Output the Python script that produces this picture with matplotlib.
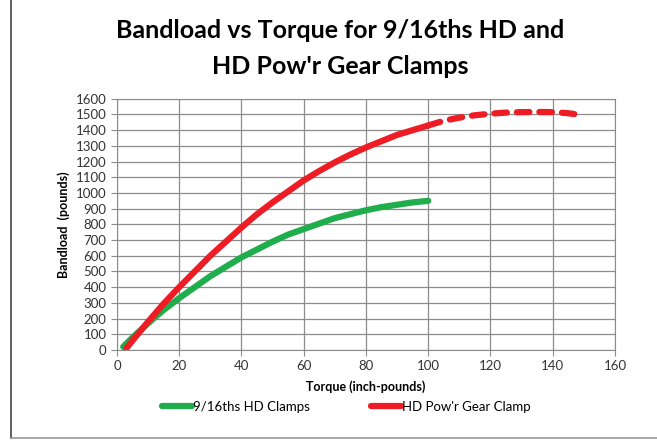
import matplotlib.pyplot as plt

# values
green_x = [2, 5, 10, 15, 20, 25, 30, 35, 40, 45, 50, 55, 60, 65, 70, 75, 80, 85, 90, 95, 100]
green_y = [20, 80, 170, 255, 330, 400, 470, 530, 590, 640, 690, 735, 770, 805, 840, 865, 890, 910, 925, 940, 950]
red_x = [3, 5, 10, 15, 20, 25, 30, 35, 40, 45, 50, 55, 60, 65, 70, 75, 80, 85, 90, 95, 100]
red_y = [10, 60, 180, 295, 400, 500, 600, 690, 780, 865, 940, 1010, 1080, 1140, 1195, 1245, 1290, 1330, 1370, 1400, 1430]
red_ext_x = [100, 105, 110, 115, 120, 125, 130, 135, 140, 145, 148]
red_ext_y = [1430, 1460, 1480, 1495, 1505, 1512, 1515, 1516, 1515, 1508, 1500]

GREEN = "#1fae4b"
RED = "#ee1c25"

plt.rcParams['font.family'] = ['Lato', 'DejaVu Sans']

fig = plt.figure(figsize=(6.57, 4.43), dpi=100)
ax = fig.add_axes([0.178, 0.21, 0.758, 0.567])

ax.plot(green_x, green_y, color=GREEN, lw=4.5, solid_capstyle='round', solid_joinstyle='round',
        label="9/16ths HD Clamps")
ax.plot(red_x, red_y, color=RED, lw=4.5, solid_capstyle='round', solid_joinstyle='round',
        label="HD Pow'r Gear Clamp")
ax.plot(red_ext_x, red_ext_y, color=RED, lw=4.5, dashes=(2.0, 1.6), dash_capstyle='round')

ax.set_xlim(0, 160)
ax.set_ylim(0, 1600)
ax.set_xticks(range(0, 161, 20))
ax.set_yticks(range(0, 1601, 100))
ax.grid(True, color="#8c8c8c", lw=0.9)
ax.set_axisbelow(True)
for s in ax.spines.values():
    s.set_color("#8c8c8c")
ax.tick_params(colors="#8c8c8c", labelcolor="#333333", labelsize=9.5, length=4)

ax.set_xlabel("Torque (inch-pounds)", fontsize=9, fontweight='bold', labelpad=6)
ax.set_ylabel("Bandload  (pounds)", fontsize=9, fontweight='bold', labelpad=4)

fig.text(0.518, 0.932, "Bandload vs Torque for 9/16ths HD and", ha='center', va='center',
         fontsize=18, fontweight='bold')
fig.text(0.518, 0.851, "HD Pow'r Gear Clamps", ha='center', va='center',
         fontsize=18, fontweight='bold')

ax.legend(loc='upper center', bbox_to_anchor=(0.46, -0.155), ncol=2, frameon=False,
          fontsize=9.5, handlelength=2.3, handletextpad=0.05, columnspacing=4.6)

# frame edges of the original image
fig.add_artist(plt.Line2D([0.017, 0.017], [0.012, 1.0], color="#444444", lw=1.2))
fig.add_artist(plt.Line2D([0.017, 1.0], [0.012, 0.012], color="#999999", lw=1.2))

fig.savefig("out.png", dpi=100)
